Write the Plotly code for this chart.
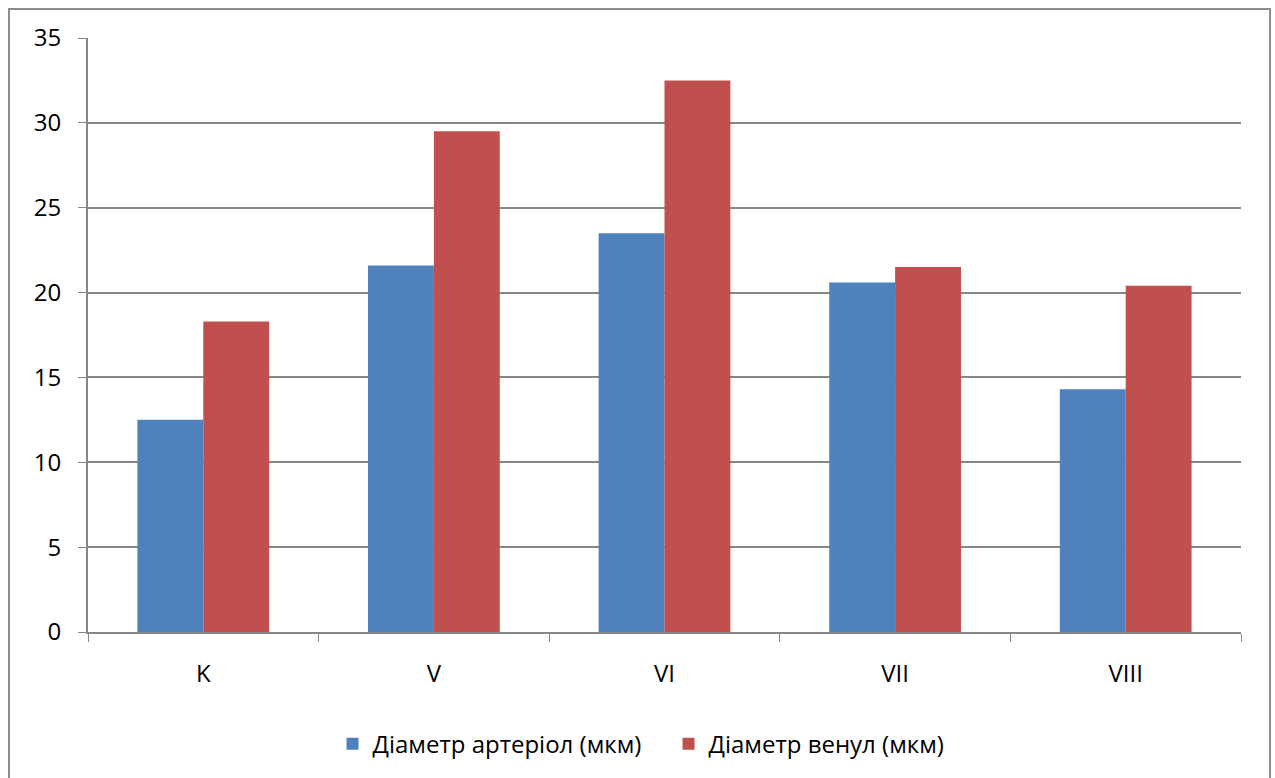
import plotly.graph_objects as go

# Categories and measured diameters
groups = ["K", "V", "VI", "VII", "VIII"]
arteriole = [12.5, 21.6, 23.5, 20.6, 14.3]
venule = [18.3, 29.5, 32.5, 21.5, 20.4]
y_ticks = [0, 5, 10, 15, 20, 25, 30, 35]

FONT = "Open Sans, Liberation Sans, DejaVu Sans, sans-serif"
GRID = "#868686"

fig = go.Figure()
fig.add_trace(go.Bar(x=groups, y=arteriole, name="Діаметр артеріол (мкм)",
                     marker=dict(color="#4F81BD", line=dict(width=0))))
fig.add_trace(go.Bar(x=groups, y=venule, name="Діаметр венул (мкм)",
                     marker=dict(color="#C0504D", line=dict(width=0))))

fig.update_layout(
    width=1275, height=778,
    margin=dict(l=88, r=34, t=38, b=146),
    paper_bgcolor="white", plot_bgcolor="white",
    barmode="group", bargap=0.4286, bargroupgap=0,
    font=dict(family=FONT, size=24, color="black"),
    showlegend=True,
    legend=dict(orientation="h", x=0.5035, xanchor="center", y=-0.1886, yanchor="middle",
                font=dict(family=FONT, size=24), itemwidth=30, traceorder="normal",
                entrywidth=291, entrywidthmode="pixels"),
    xaxis=dict(type="category", tickson="boundaries", ticks="outside", ticklen=8,
               tickcolor=GRID, showline=True, linecolor=GRID, linewidth=2,
               showgrid=False, ticklabelstandoff=19,
               tickfont=dict(family=FONT, size=24)),
    yaxis=dict(range=[0, 35], tickvals=y_ticks, ticks="outside", ticklen=8,
               tickcolor=GRID, showline=True, linecolor=GRID, linewidth=2,
               showgrid=True, gridcolor=GRID, gridwidth=1.5, zeroline=False,
               ticklabelstandoff=12, tickfont=dict(family=FONT, size=24)),
    shapes=[dict(type="rect", xref="paper", yref="paper",
                 x0=-0.0685, x1=1.0252, y0=-0.35, y1=1.0488,
                 line=dict(color="#8C8C8C", width=2), fillcolor="rgba(0,0,0,0)",
                 layer="below")],
)

fig.write_html("out.html")
